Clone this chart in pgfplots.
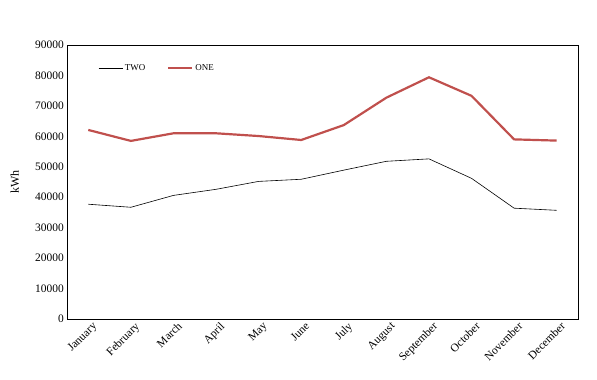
\documentclass[border=0pt]{standalone}
\usepackage{fontspec}
\setmainfont{Liberation Serif}
\usepackage{pgfplots}
\pgfplotsset{compat=1.18}
\definecolor{oner}{RGB}{192,80,77}
\begin{document}
\begin{tikzpicture}
\begin{axis}[
  name=main,
  scale only axis,
  width=511bp, height=274bp,
  xmin=-0.5, xmax=11.5,
  ymin=0, ymax=90000,
  ytick={0,10000,...,90000},
  xtick={0,...,11},
  xticklabels={January,February,March,April,May,June,July,August,September,October,November,December},
  x tick label style={rotate=45, anchor=north east, inner sep=2pt, xshift=3bp, yshift=-2bp, font=\fontsize{11.5}{12}\selectfont},
  y tick label style={font=\fontsize{11.5}{12}\selectfont, inner sep=3pt},
  /pgf/number format/assume math mode=true,
  scaled y ticks=false,
  yticklabel={\pgfmathprintnumber[1000 sep={}]{\tick}},
  major tick length=0pt,
  axis line style={black, line width=0.8pt},
  ylabel={kWh},
  every axis y label/.style={at={(axis description cs:-0.102,0.5)}, rotate=90, anchor=center, font=\fontsize{12}{13}\selectfont},
  legend style={draw=none, fill=none, at={(0.055,0.945)}, anchor=north west, font=\fontsize{9}{10}\selectfont, legend columns=2, /tikz/every even column/.append style={column sep=20bp}},
  legend image code/.code={\draw[#1] (0bp,0bp) -- (24bp,0bp);},
]
\addplot[black, line width=0.6pt] coordinates {
(0,37700) (1,36700) (2,40600) (3,42600) (4,45200) (5,45900)
(6,48900) (7,51800) (8,52600) (9,46200) (10,36400) (11,35700)};
\addlegendentry{TWO}
\addplot[oner, line width=2.2pt] coordinates {
(0,62100) (1,58500) (2,61000) (3,61000) (4,60100) (5,58800)
(6,63700) (7,72700) (8,79400) (9,73300) (10,59000) (11,58600)};
\addlegendentry{ONE}
\end{axis}
\path (main.south west) ++(-67bp,-61bp) rectangle ++(597bp,380bp);
\end{tikzpicture}
\end{document}
